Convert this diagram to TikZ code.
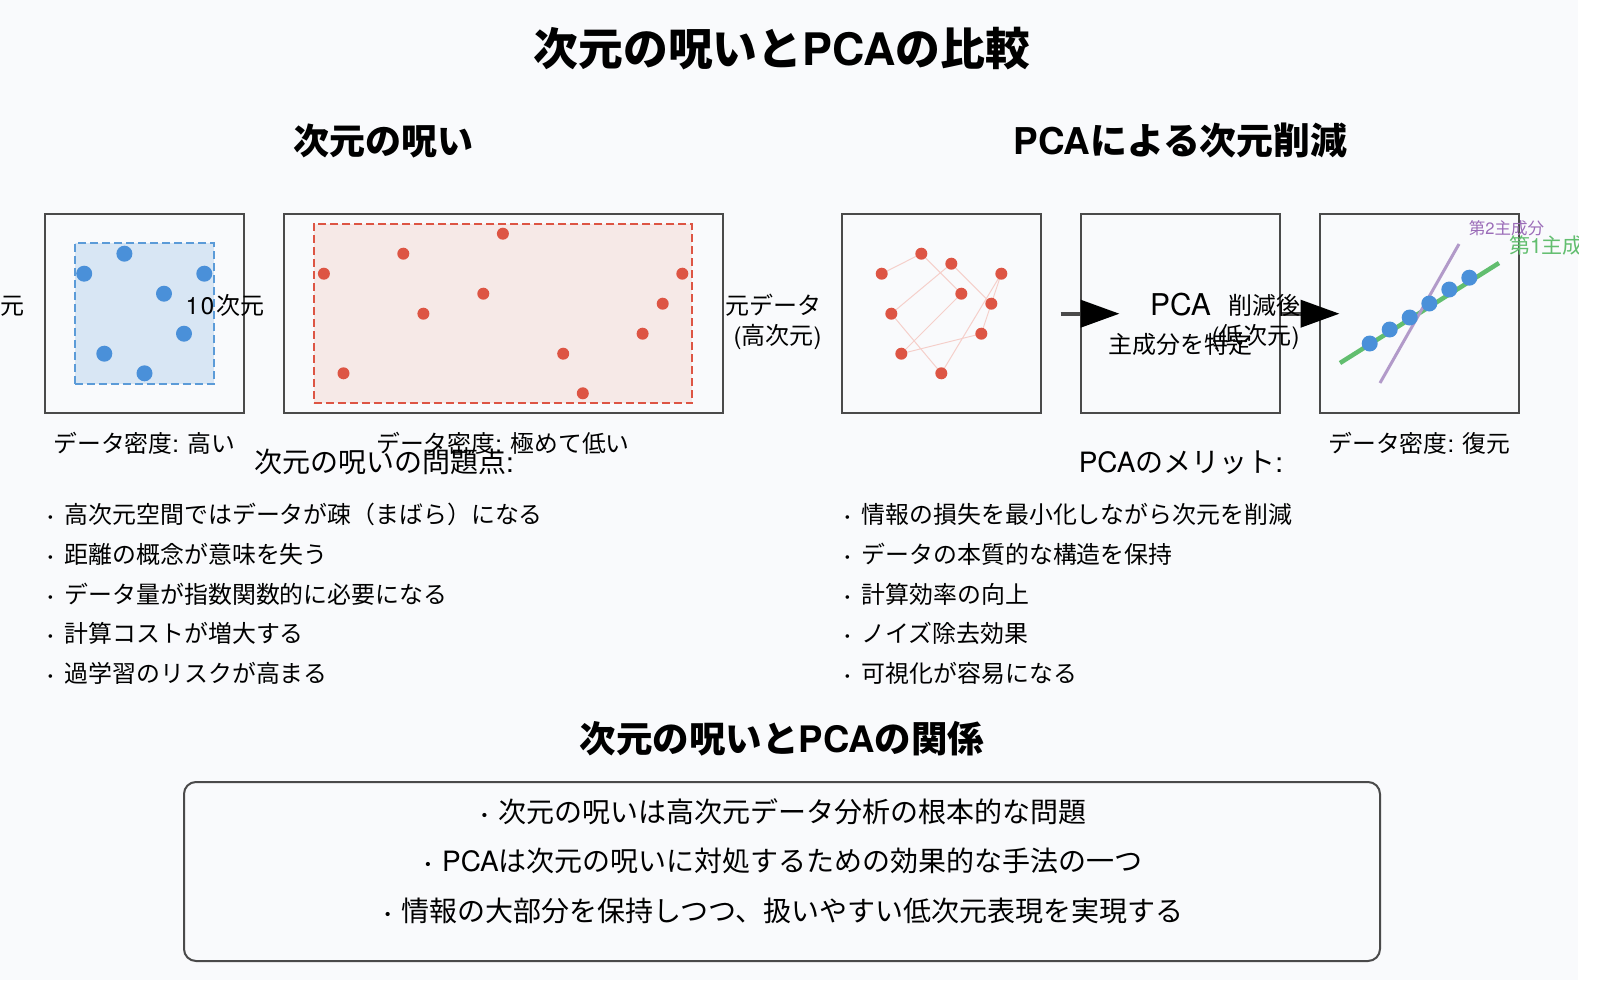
\documentclass[tikz,border=0pt]{standalone}
\usepackage{fontspec}
\usetikzlibrary{arrows.meta}
\setmainfont{Noto Sans CJK JP}
\newfontfamily\jpfont{Noto Sans CJK JP}
\newfontfamily\heros{TeX Gyre Heros}
\newcommand{\latn}[1]{{\heros #1}}
\newcommand{\pxs}[1]{\fontsize{#1}{#1}\selectfont}
\newcommand{\bul}{{\heros\bfseries ·}\hspace{0.47em}}
\newcommand{\bulk}{{\heros\bfseries ·}\hspace{0.36em}}
\definecolor{bgc}{HTML}{F9FAFC}
\definecolor{edgec}{HTML}{4A4A4A}
\definecolor{bluec}{HTML}{4A90D9}
\definecolor{blueedge}{HTML}{5B9BD8}
\definecolor{bluefill}{HTML}{D8E6F4}
\definecolor{redc}{HTML}{DD5544}
\definecolor{redfill}{HTML}{F6E9E7}
\definecolor{greenc}{HTML}{62BE6F}
\definecolor{purplec}{HTML}{B29AC9}
\definecolor{purpletext}{HTML}{9B6CB8}
\definecolor{linkc}{HTML}{F5CFCA}
\tikzset{
  txt/.style={anchor=base,inner sep=0pt,outer sep=0pt,text=black,font=\jpfont\pxs{#1}},
  txt/.default=24,
  txe/.style={anchor=base east,inner sep=0pt,outer sep=0pt,text=black,font=\jpfont\pxs{24}},
  item/.style={anchor=base west,inner sep=0pt,outer sep=0pt,text=black,font=\jpfont\pxs{23.9}},
  databox/.style={draw=edgec,line width=2pt,rectangle,inner sep=0pt,outer sep=0pt,minimum height=199.5pt},
  densearea/.style={rectangle,inner sep=0pt,outer sep=0pt,line width=2pt,dash pattern=on 8pt off 4pt},
  bluedot/.style={circle,fill=bluec,inner sep=0pt,outer sep=0pt,minimum size=16pt},
  reddot/.style={circle,fill=redc,inner sep=0pt,outer sep=0pt,minimum size=12pt},
  linkline/.style={draw=linkc,line width=1pt},
  flow/.style={draw=edgec,line width=4pt,-{Triangle[length=39pt,width=27pt,color=black,fill=black]}},
  pcline/.style={line cap=butt}
}
\begin{document}
\begin{tikzpicture}[x=1pt,y=-1pt]
\useasboundingbox (0,0) rectangle (1600,980);
\fill[white] (0,0) rectangle (1600,980);
\fill[bgc] (0,0) rectangle (1578,980);
% titles
\node[txt=45,font=\jpfont\bfseries\pxs{44.8}] (title) at (782,65.5) {次元の呪いと\latn{PCA}の比較};
\node[txt=36,font=\jpfont\bfseries\pxs{36}] (h1) at (383,154) {次元の呪い};
\node[txt=36,font=\jpfont\bfseries\pxs{36.9}] (h2) at (1180.5,154) {\latn{PCA}による次元削減};
% boxes
\node[databox,minimum width=199.5pt] (b1) at (144.3,313.7) {};
\node[databox,minimum width=439pt] (b2) at (503,313.7) {};
\node[databox,minimum width=199.5pt] (b3) at (941.3,313.7) {};
\node[databox,minimum width=199.5pt] (b4) at (1180.5,313.7) {};
\node[databox,minimum width=199.5pt] (b5) at (1419.7,313.7) {};
% dense areas
\node[densearea,draw=blueedge,fill=bluefill,minimum width=139.5pt,minimum height=140.5pt] (a1) at (144.3,313.5) {};
\node[densearea,draw=redc,fill=redfill,minimum width=378.5pt,minimum height=179.5pt] (a2) at (503.1,313.4) {};
% blue dots, box 1
\foreach \n/\x/\y in {p1/124.4/253.7,p2/84.2/273.7,p3/204.3/273.7,p4/164/293.7,p5/184/333.7,p6/104.3/353.7,p7/144.5/373.3}
  \node[bluedot] (\n) at (\x,\y) {};
% red dots, box 2
\foreach \n/\x/\y in {q1/502.9/233.7,q2/403.3/253.7,q3/323.9/273.7,q4/682.3/273.7,q5/483.3/293.7,q6/662.7/303.7,q7/423.4/313.7,q8/642.6/333.7,q9/563.2/353.7,q10/343.5/373.3,q11/582.8/393.3}
  \node[reddot] (\n) at (\x,\y) {};
% original data, box 3
\foreach \n/\x/\y in {r1/881.7/273.7,r2/921.3/253.7,r3/951.3/263.7,r4/1001.3/273.7,r5/961.3/293.7,r6/991.3/303.7,r7/891.3/313.7,r8/981.3/333.7,r9/901.3/353.7,r10/941.3/373.3}
  \coordinate (\n) at (\x,\y);
\draw[linkline] (r1) -- (r2) -- (r5) -- (r9) -- (r8) -- (r6) -- (r3) -- (r7) -- (r10) -- (r4) -- (r6);
\foreach \n in {r1,r2,r3,r4,r5,r6,r7,r8,r9,r10}
  \node[reddot] at (\n) {};
% arrows
\coordinate (f1s) at (1060.5,313.7);
\coordinate (f1e) at (1119.5,313.7);
\coordinate (f2s) at (1280,313.7);
\coordinate (f2e) at (1339.5,313.7);
\draw[flow] (f1s) -- (f1e);
\draw[flow] (f2s) -- (f2e);
% principal components
\coordinate (g1) at (1340,363);
\coordinate (g2) at (1499,263);
\coordinate (v1) at (1380,383);
\coordinate (v2) at (1459,244);
\draw[draw=greenc,line width=4.5pt,pcline] (g1) -- (g2);
\draw[draw=purplec,line width=3pt,pcline] (v1) -- (v2);
\foreach \n/\x/\y in {s1/1369.7/343.5,s2/1389.7/329.5,s3/1409.7/317.5,s4/1429.3/303.5,s5/1449.3/289.5,s6/1469.3/277.7}
  \node[bluedot] (\n) at (\x,\y) {};
% labels
\node[txt,font=\jpfont\pxs{24},anchor=base east] (l0) at (24.5,314) {元};
\node[txt,font=\jpfont\pxs{24},anchor=base east] (l1) at (264,314) {\latn{1\hspace{1.8pt}0\hspace{1.8pt}}次元};
\node[txe] (l2) at (821.5,314) {元データ};
\node[txe] (l3) at (821.5,344) {\latn{(}高次元\latn{)}};
\node[txt=30,font=\heros\pxs{30}] (pca) at (1180.5,315) {PCA};
\node[txt=24] (pcb) at (1180.5,353) {主成分を特定};
\node[txe] (l4) at (1300,314) {削減後};
\node[txe] (l5) at (1299.5,344) {\latn{(}低次元\latn{)}};
\node[txt=16.5,text=purpletext,font=\jpfont\pxs{16.5}] (c2) at (1506.5,234.5) {第\latn{2}主成分};
\begin{scope}
\clip (0,0) rectangle (1578,980);
\node[anchor=base west,inner sep=0pt,text=greenc,font=\jpfont\pxs{21}] (c1) at (1509,253.5) {第\latn{1}主成分};
\end{scope}
\node[txt=24,font=\jpfont\pxs{23.8}] (d1) at (144.5,452) {データ密度\latn{: }高い};
\node[txt=24,font=\jpfont\pxs{23.8}] (d2) at (503,452) {データ密度\latn{: }極めて低い};
\node[txt=24,font=\jpfont\pxs{23.8}] (d3) at (1419.5,452) {データ密度\latn{: }復元};
\node[txt=28,font=\jpfont\pxs{28}] (s1h) at (384,472) {次元の呪いの問題点\latn{:}};
\node[txt=28,font=\jpfont\pxs{28}] (s2h) at (1181,472) {\latn{PCA}のメリット\latn{:}};
% lists
\node[item] (i1) at (47,523) {\bul 高次元空間ではデータが疎（まばら）になる};
\node[item] (i2) at (47,563) {\bul 距離の概念が意味を失う};
\node[item] (i3) at (47,603) {\bul データ量が指数関数的に必要になる};
\node[item] (i4) at (47,642) {\bul 計算コストが増大する};
\node[item] (i5) at (47,682) {\bul 過学習のリスクが高まる};
\node[item] (j1) at (844,523) {\bul 情報の損失を最小化しながら次元を削減};
\node[item] (j2) at (844,563) {\bul データの本質的な構造を保持};
\node[item] (j3) at (844,603) {\bul 計算効率の向上};
\node[item] (j4) at (844,642) {\bul ノイズ除去効果};
\node[item] (j5) at (844,682) {\bul 可視化が容易になる};
% relation
\node[txt=36,font=\jpfont\bfseries\pxs{36.5}] (h3) at (782,752) {次元の呪いと\latn{PCA}の関係};
\draw[draw=edgec,line width=2pt,rounded corners=12pt] (184,782) rectangle (1380,961);
\node[txt=28,font=\jpfont\pxs{28}] (k1) at (783.5,822) {\bulk 次元の呪いは高次元データ分析の根本的な問題};
\node[txt=28,font=\jpfont\pxs{28}] (k2) at (783.5,871) {\bulk \latn{PCA}は次元の呪いに対処するための効果的な手法の一つ};
\node[txt=28,font=\jpfont\pxs{28}] (k3) at (783.5,921) {\bulk 情報の大部分を保持しつつ、扱いやすい低次元表現を実現する};
\end{tikzpicture}
\end{document}
